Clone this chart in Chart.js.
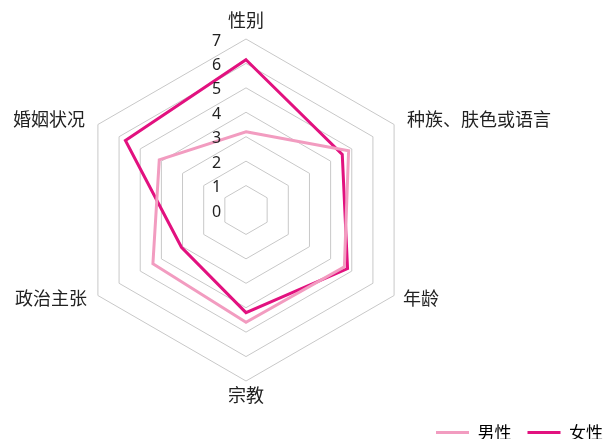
<!DOCTYPE html>
<html lang="zh">
<head>
  <meta charset="UTF-8">
  <title>歧视类型</title>
  <script src="https://cdn.jsdelivr.net/npm/chart.js"></script>
  <style>
    html, body { margin: 0; padding: 0; background: #fff; }
    #wrap { width: 606px; height: 439px; }
  </style>
</head>
<body>
  <div id="wrap"><canvas id="radar"></canvas></div>
  <script>
    const categories = ["性别", "种族、肤色或语言", "年龄", "宗教", "政治主张", "婚姻状况"];
    const male = [3.2, 4.85, 4.65, 4.6, 4.4, 4.1];
    const female = [6.15, 4.55, 4.8, 4.2, 3.05, 5.7];
    const tickValues = [0, 1, 2, 3, 4, 5, 6, 7];

    const cjkFont = "'Noto Sans CJK SC', 'Noto Sans', sans-serif";

    // offsets of each category label from its outer vertex: [dx, dy, align]
    const labelPlace = [
      [0, -19, 'center'],
      [13, -5, 'left'],
      [9, 3, 'left'],
      [0, 14, 'center'],
      [-11, 3, 'right'],
      [-13, -5, 'right']
    ];

    const radarText = {
      id: 'radarText',
      afterDraw(chart) {
        const r = chart.scales.r;
        const ctx = chart.ctx;
        ctx.save();
        ctx.fillStyle = '#222';
        ctx.textBaseline = 'middle';
        // tick numbers, left of the vertical axis
        ctx.font = "16px 'Noto Sans', sans-serif";
        ctx.textAlign = 'center';
        tickValues.forEach(v => {
          const d = r.getDistanceFromCenterForValue(v);
          ctx.fillText(String(v), r.xCenter - 29.5, r.yCenter - d + 2);
        });
        // category labels
        ctx.font = "18px " + cjkFont;
        categories.forEach((c, i) => {
          const p = r.getPointPosition(i, r.drawingArea);
          const [dx, dy, align] = labelPlace[i];
          ctx.textAlign = align;
          ctx.fillText(c, p.x + dx, p.y + dy);
        });
        ctx.restore();
      }
    };

    new Chart(document.getElementById("radar"), {
      type: 'radar',
      data: {
        labels: categories,
        datasets: [
          {
            label: '男性',
            data: male,
            borderColor: '#f29cc0',
            backgroundColor: '#f29cc0',
            borderWidth: 3,
            fill: false,
            pointRadius: 0
          },
          {
            label: '女性',
            data: female,
            borderColor: '#e2117f',
            backgroundColor: '#e2117f',
            borderWidth: 3,
            fill: false,
            pointRadius: 0
          }
        ]
      },
      options: {
        responsive: true,
        maintainAspectRatio: false,
        animation: false,
        elements: { line: { tension: 0 } },
        layout: { padding: { top: 0, bottom: -12, left: 0, right: -13 } },
        scales: {
          r: {
            min: 0,
            max: 7,
            ticks: { stepSize: 1, display: false },
            grid: { color: '#c8c8c8', lineWidth: 1 },
            angleLines: { display: false },
            pointLabels: { display: false },
            afterFit(scale) {
              // place the web where the original sits
              scale.xCenter = scale.left + 246;
              scale.yCenter = 210;
              scale.drawingArea = 171;
            }
          }
        },
        plugins: {
          legend: {
            position: 'bottom',
            align: 'end',
            labels: {
              color: '#222',
              boxWidth: 33,
              boxHeight: 3,
              padding: 16,
              font: { family: cjkFont, size: 17 },
              generateLabels(chart) {
                return chart.data.datasets.map((ds, i) => ({
                  text: ds.label,
                  fillStyle: ds.borderColor,
                  strokeStyle: ds.borderColor,
                  lineWidth: 0,
                  datasetIndex: i
                }));
              }
            }
          },
          tooltip: { enabled: false }
        }
      },
      plugins: [radarText]
    });
  </script>
</body>
</html>
